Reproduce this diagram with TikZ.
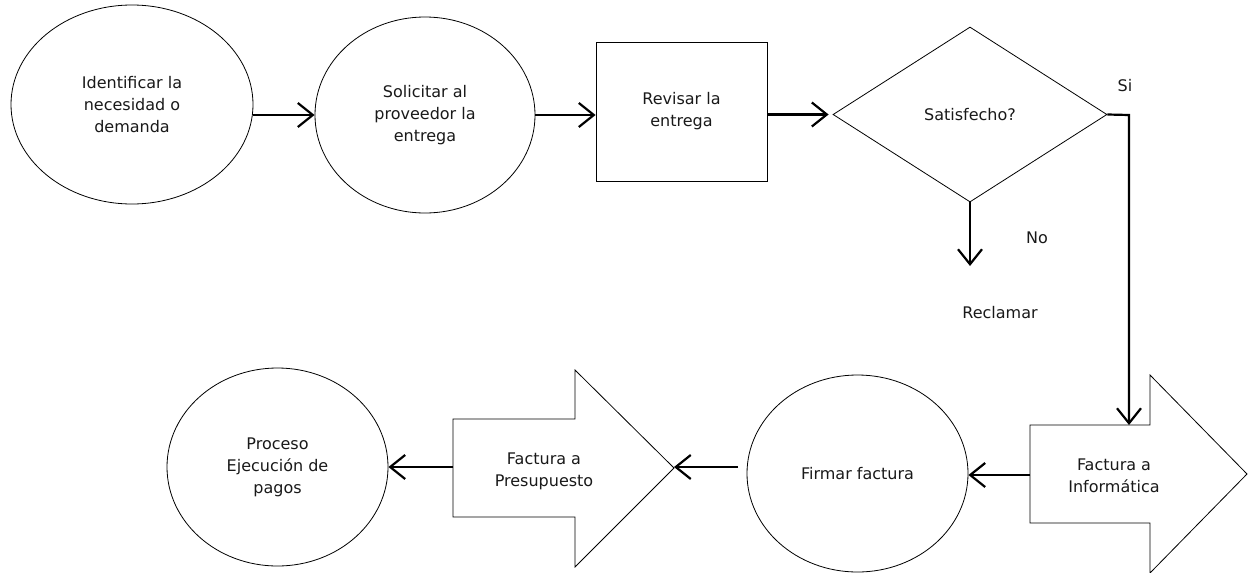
\documentclass[tikz,border=0pt]{standalone}
\usepackage{fontspec}
\setmainfont{DejaVu Sans}
\usetikzlibrary{shapes.geometric,arrows.meta}
\begin{document}
\begin{tikzpicture}[x=1pt,y=-1pt,
  outline/.style={draw=black, line width=0.8pt, inner sep=0pt},
  txt/.style={font=\fontsize{16}{22}\selectfont, align=center, text=black!90},
  flow/.style={line width=2.2pt, -{Straight Barb[length=15pt,width=24pt]}},
  plain/.style={line width=2.2pt},
]
\useasboundingbox (0,0) rectangle (1248,573);

% top row
\node[outline, ellipse, minimum width=242pt, minimum height=199pt, txt] (ident) at (132,104.5) {Identificar la\\necesidad o\\demanda};
\node[outline, ellipse, minimum width=220pt, minimum height=196pt, txt] (solic) at (425,115) {Solicitar al\\proveedor la\\entrega};
\node[outline, rectangle, minimum width=171pt, minimum height=139pt, txt] (revis) at (681.5,111.5) {Revisar la\\entrega};
\node[outline, diamond, minimum width=274pt, minimum height=175pt, txt] (satis) at (970,114.5) {Satisfecho?};

% decision labels
\node[txt] (si) at (1125,86) {Si};
\node[txt] (no) at (1037,238) {No};
\node[txt] (recl) at (1000,313) {Reclamar};
\coordinate (bend) at (1129,115);
\coordinate (noend) at (970,266);

% bottom row: block arrows
\draw[outline] (1030,425) -- (1150,425) -- (1150,375) -- (1247,474) -- (1150,573) -- (1150,523) -- (1030,523) -- cycle;
\node[txt] (infor) at (1114,476) {Factura a\\Informática};
\coordinate (inftop) at (1129,425);
\coordinate (inftail) at (1030,475);

\node[outline, ellipse, minimum width=221pt, minimum height=197pt, txt] (firma) at (857.5,473.5) {Firmar factura};
\coordinate (firmout) at (738,467);

\draw[outline] (453,419) -- (575,419) -- (575,370) -- (674,468) -- (575,567) -- (575,517) -- (453,517) -- cycle;
\node[txt] (presu) at (544,471) {Factura a\\Presupuesto};
\coordinate (pretip) at (674,467);
\coordinate (pretail) at (453,467);

\node[outline, ellipse, minimum width=221pt, minimum height=198pt, txt] (proce) at (277.5,467) {Proceso\\Ejecución de\\pagos};

% connectors
\draw[flow] (ident.east |- solic.west) -- (solic.west);
\draw[flow] (solic.east) -- (solic.east -| revis.west);
\draw[flow] (revis.east |- satis.west) -- ([xshift=-4pt]satis.west);
\draw[flow] (satis.east) -- (bend) -- (inftop);
\draw[flow] (satis.south) -- (noend);
\draw[flow] (inftail) -- (inftail -| firma.east);
\draw[flow] (firmout) -- (pretip);
\draw[flow] (pretail) -- (pretail -| proce.east);
\end{tikzpicture}
\end{document}
